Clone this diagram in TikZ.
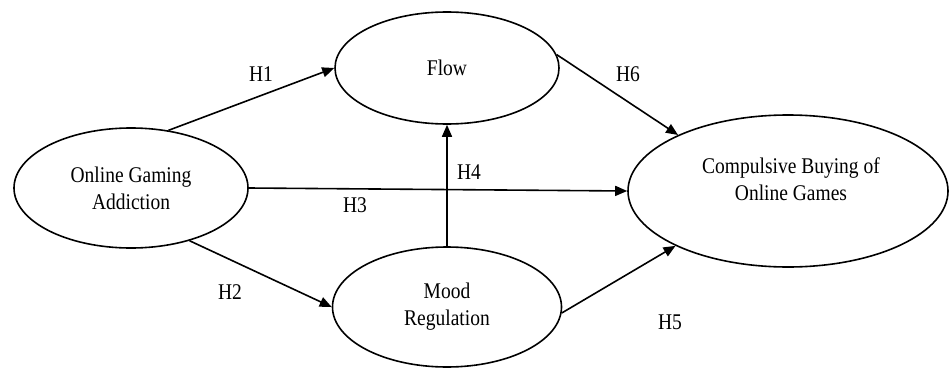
\documentclass[tikz,border=0pt]{standalone}
\usepackage{fontspec}
\setmainfont{Liberation Serif}
\usetikzlibrary{shapes.geometric,arrows.meta}
\newcommand\stt[1]{\scalebox{1}[1.15]{#1}}
\begin{document}
\begin{tikzpicture}[x=1pt,y=-1pt,
  oval/.style={draw, ellipse, line width=1.6pt, inner sep=0pt, align=center,
    font=\fontsize{19.5}{27}\selectfont},
  lbl/.style={font=\fontsize{19.5}{24}\selectfont, inner sep=0pt},
  link/.style={line width=1.6pt, -{Triangle[length=12pt,width=10pt]}}]
\useasboundingbox (0,0) rectangle (949,369);
\node[oval, minimum width=234pt, minimum height=120pt] (oga) at (131,188) {\stt{Online Gaming}\\\stt{Addiction}};
\node[oval, minimum width=224pt, minimum height=112pt] (flow) at (447,68) {\stt{Flow}};
\node[oval, minimum width=229pt, minimum height=120pt] (mood) at (447,307) {\stt{Mood}\\\stt{Regulation}};
\node[oval, minimum width=320pt, minimum height=152pt] (cb) at (788,191) {};
\node[lbl, align=center, font=\fontsize{19.5}{27}\selectfont] (cbtext) at (791,179) {\stt{Compulsive Buying of}\\\stt{Online Games}};
\draw[link] (oga.57) -- (flow.west);
\draw[link] (oga.-42) -- (mood.west);
\draw[link] (oga.east) -- (cb.west);
\draw[link] (mood.north) -- (mood.north |- flow.south);
\draw[link] (flow.7) -- (cb.153);
\draw[link] (mood.-3) -- (cb.-154);
\node[lbl] (h1) at (261,74) {\stt{H1}};
\node[lbl] (h2) at (230,292) {\stt{H2}};
\node[lbl] (h3) at (355,205) {\stt{H3}};
\node[lbl] (h4) at (469,172) {\stt{H4}};
\node[lbl] (h5) at (670,322) {\stt{H5}};
\node[lbl] (h6) at (628,74) {\stt{H6}};
\end{tikzpicture}
\end{document}
